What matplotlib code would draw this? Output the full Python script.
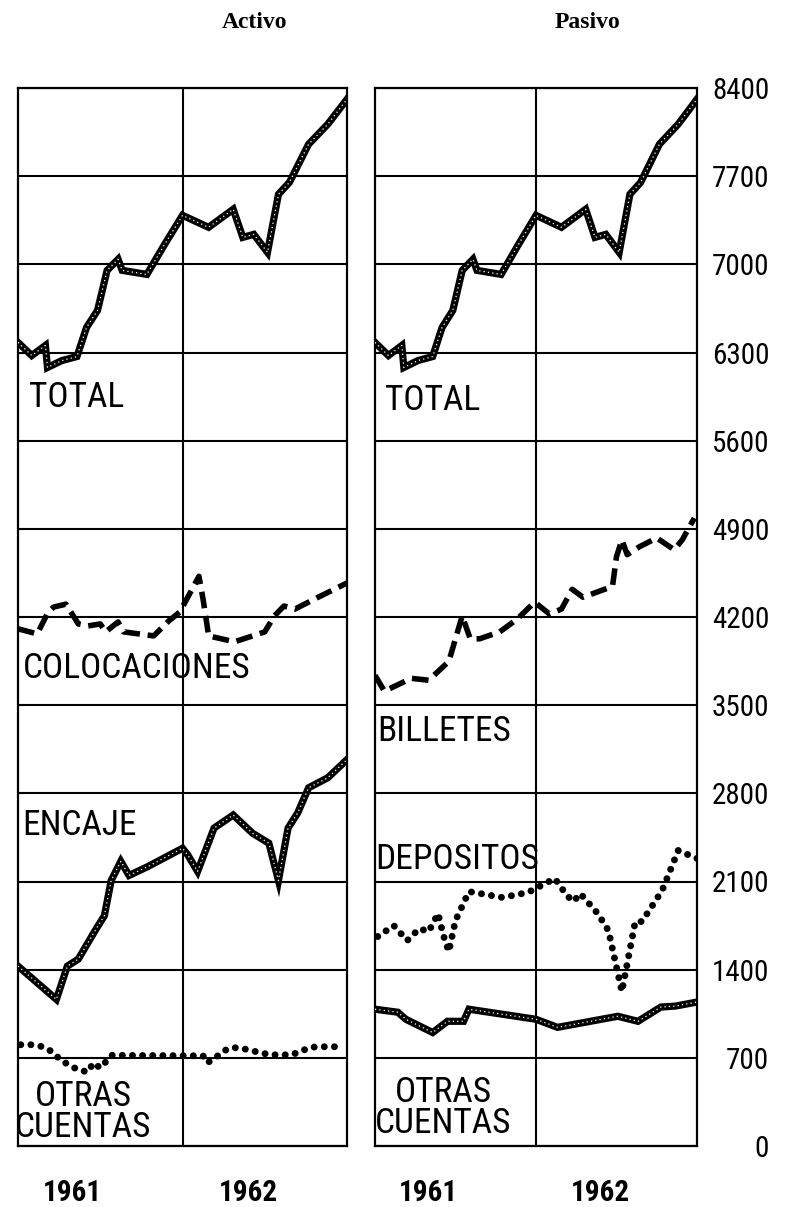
import matplotlib
matplotlib.use("Agg")
import matplotlib.pyplot as plt

# meses desde enero 1961 (0..24) y valores
total_mes = [0, 1, 2, 2.15, 3.2, 4.3, 5.0, 5.8, 6.5, 7.3, 7.6, 9.4, 10.7,
             12, 13.9, 15.7, 16.4, 17.2, 18.2, 19.0, 19.8, 21.2, 22.6, 24]
total_val = [6380, 6276, 6356, 6181, 6236, 6268, 6499, 6634, 6952, 7040, 6952, 6920, 7159,
             7389, 7294, 7437, 7214, 7238, 7095, 7556, 7651, 7954, 8113, 8311]

coloc_mes = [0, 1.4, 2.2, 2.6, 3.5, 4.4, 5.1, 6.0, 6.4, 7.3, 7.7, 8.8, 9.9, 11.0, 11.8,
             13.2, 13.5, 13.8, 13.9, 15.8, 18.0, 18.7, 19.4, 20.2, 21.9, 24]
coloc_val = [4106, 4066, 4239, 4279, 4302, 4145, 4129, 4145, 4082, 4161, 4082, 4066, 4050, 4169, 4239,
             4523, 4342, 4129, 4050, 4003, 4082, 4208, 4287, 4263, 4357, 4470]

encaje_mes = [0, 2.8, 3.6, 4.4, 5.7, 6.3, 6.8, 7.5, 8.1, 9.5, 12.0, 12.4, 13.1,
              14.3, 15.7, 17.1, 18.3, 19.0, 19.7, 20.4, 21.2, 22.6, 24]
encaje_val = [1428, 1164, 1428, 1484, 1724, 1828, 2108, 2260, 2148, 2220, 2364, 2308, 2180,
              2524, 2628, 2484, 2404, 2108, 2524, 2644, 2844, 2924, 3068]

otras_act_mes = [0.2, 1.1, 1.8, 2.5, 3.1, 3.7, 4.4, 5.1, 5.5, 6.0, 6.4, 6.8, 13.5, 13.8, 14.4,
                 14.9, 15.5, 16.1, 16.8, 17.7, 18.4, 19.9, 20.6, 21.2, 21.8, 23.7]
otras_act_val = [804, 804, 788, 748, 684, 644, 604, 588, 660, 620, 668, 720, 716, 660, 700,
                 748, 780, 780, 764, 740, 724, 724, 748, 780, 788, 788]

billetes_mes = [0, 0.7, 2.7, 4.0, 5.5, 6.5, 7.1, 7.8, 9.3, 10.6, 11.9, 13.0, 13.9, 14.7, 15.5,
                17.7, 18.0, 18.4, 18.8, 19.7, 21.0, 22.3, 22.9, 23.8]
billetes_val = [3737, 3611, 3713, 3698, 3847, 4208, 4027, 4027, 4082, 4184, 4318, 4224, 4263, 4420, 4357,
                4443, 4679, 4812, 4695, 4757, 4828, 4734, 4812, 4985]

depos_mes = [0.2, 1.4, 2.4, 3.3, 4.0, 4.7, 5.1, 5.5, 6.0, 7.0, 9.5, 11.4, 13.4, 14.3, 14.8, 15.3,
             16.6, 17.4, 18.4, 19.4, 19.9, 21.4, 22.6, 24.0]
depos_val = [1663, 1750, 1631, 1726, 1702, 1846, 1671, 1544, 1790, 2020, 1973, 2013, 2124, 1989, 1941, 2005,
             1846, 1710, 1226, 1782, 1782, 2028, 2346, 2283]

otras_pas_mes = [0, 1.7, 2.3, 4.3, 5.4, 6.6, 7.0, 12.0, 13.6, 18.1, 19.6, 21.3, 22.4, 24]
otras_pas_val = [1086, 1062, 1006, 901, 990, 990, 1086, 1006, 942, 1030, 990, 1103, 1111, 1143]

y_ticks = list(range(0, 8401, 700))
years = ["1961", "1962"]
year_pos = [4.0, 16.8]

NARROW = ["Roboto Condensed", "Archivo Narrow", "DejaVu Sans"]


def solid(ax, x, y):
    ax.plot(x, y, color="black", lw=5.2, solid_joinstyle="miter", zorder=3)
    ax.plot(x, y, color="white", lw=0.9, ls=(0, (1, 2.5)), zorder=4)


def dashed(ax, x, y):
    ax.plot(x, y, color="black", lw=4.0, ls=(0, (3.0, 1.4)), zorder=3)


def dotted(ax, x, y):
    ax.plot(x, y, color="black", lw=5.0, ls=(0, (0.01, 1.45)),
            dash_capstyle="round", zorder=3)


def setup(ax):
    ax.set_xlim(0, 24)
    ax.set_ylim(0, 8400)
    ax.set_xticks([12])
    ax.set_yticks(y_ticks)
    ax.grid(True, color="black", lw=1.5)
    ax.set_axisbelow(True)
    ax.tick_params(length=0, labelbottom=False, labelleft=False)
    for s in ax.spines.values():
        s.set_linewidth(1.6)
    for yr, xp in zip(years, year_pos):
        ax.text(xp, -370, yr, ha="center", va="center", fontsize=21,
                fontweight="bold", family=NARROW, clip_on=False)


def label(ax, x, y, s, **kw):
    ax.text(x, y, s, fontsize=25.5, family=NARROW, va="center", zorder=5, **kw)


fig = plt.figure(figsize=(7.86, 12.07), dpi=100)
ax1 = fig.add_axes([18 / 786, 1 - 1146 / 1207, 329 / 786, 1058 / 1207])
ax2 = fig.add_axes([375 / 786, 1 - 1146 / 1207, 322 / 786, 1058 / 1207])

# Activo
setup(ax1)
solid(ax1, total_mes, total_val)
dashed(ax1, coloc_mes, coloc_val)
solid(ax1, encaje_mes, encaje_val)
dotted(ax1, otras_act_mes, otras_act_val)
label(ax1, 0.8, 5942, "TOTAL")
label(ax1, 0.35, 3789, "COLOCACIONES")
label(ax1, 0.3, 2548, "ENCAJE")
label(ax1, 4.75, 270, "OTRAS\nCUENTAS", ha="center", linespacing=0.92, multialignment="center")

# Pasivo
setup(ax2)
solid(ax2, total_mes, total_val)
dashed(ax2, billetes_mes, billetes_val)
dotted(ax2, depos_mes, depos_val)
solid(ax2, otras_pas_mes, otras_pas_val)
label(ax2, 0.75, 5920, "TOTAL")
label(ax2, 0.15, 3287, "BILLETES")
label(ax2, 0.0, 2275, "DEPOSITOS")
label(ax2, 5.1, 305, "OTRAS\nCUENTAS", ha="center", linespacing=0.92, multialignment="center")

ax2.tick_params(axis="y", labelright=True, pad=52)
for t in ax2.get_yticklabels():
    t.set_horizontalalignment("right")
    t.set_fontsize(21)
    t.set_family(NARROW)

fig.text(255 / 786, 1 - 22 / 1207, "Activo", ha="center", va="center",
         family="Liberation Serif", fontweight="bold", fontsize=17)
fig.text(587 / 786, 1 - 22 / 1207, "Pasivo", ha="center", va="center",
         family="Liberation Serif", fontweight="bold", fontsize=17)

fig.savefig("out.png", dpi=100, facecolor="white")
